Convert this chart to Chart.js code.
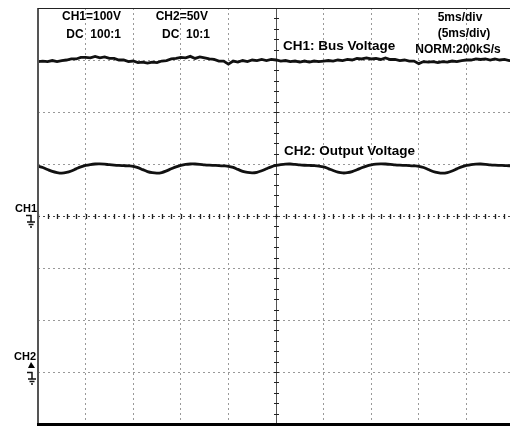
<!DOCTYPE html>
<html><head><meta charset="utf-8">
<script src="https://cdn.jsdelivr.net/npm/chart.js@4"></script>
<style>
html,body{margin:0;padding:0;background:#fff;overflow:hidden;width:510px;height:427px;}
#wrap{position:absolute;left:0;top:0;width:520px;height:427px;}
</style></head><body>
<div id="wrap"><canvas id="c" width="520" height="427"></canvas></div>
<script>
// Sample times (ms), 5 ms/div, 10 divisions
const timeMs = [0,0.5,1,1.5,2,2.5,3,3.5,4,4.5,5,5.5,6,6.5,7,7.5,8,8.5,9,9.5,
10,10.5,11,11.5,12,12.5,13,13.5,14,14.5,15,15.5,16,16.5,17,17.5,18,18.5,19,19.5,
20,20.5,21,21.5,22,22.5,23,23.5,24,24.5,25,25.5,26,26.5,27,27.5,28,28.5,29,29.5,
30,30.5,31,31.5,32,32.5,33,33.5,34,34.5,35,35.5,36,36.5,37,37.5,38,38.5,39,39.5,
40,40.5,41,41.5,42,42.5,43,43.5,44,44.5,45,45.5,46,46.5,47,47.5,48,48.5,49,49.5,50];

// CH1: Bus voltage (V), 100 V/div, ground at centre line
const busVoltage = [297,298,297,299,297,299,300,302,302,305,305,304,307,304,306,303,303,300,300,297,
298,295,296,294,296,295,298,299,302,303,305,304,307,303,306,304,302,301,298,298,
292,298,296,299,297,300,299,301,299,301,300,298,299,297,298,296,298,296,298,297,
298,299,298,300,299,301,300,303,302,304,302,303,301,304,301,301,299,300,298,298,
293,297,296,297,295,297,296,298,297,299,300,300,302,301,302,300,302,300,301,299,300];

// CH2: Output voltage (V), 50 V/div, ground 3 div below centre
const outputVoltage = [198.0,196.6,194.7,192.9,191.8,191.3,191.9,193.3,195.3,197.2,
198.6,199.5,200.0,200.1,199.8,199.3,198.9,198.6,198.4,198.2,
197.8,196.5,194.6,192.7,191.6,191.2,191.8,193.4,195.4,197.3,
198.7,199.6,200.0,200.0,199.7,199.2,198.9,198.7,198.5,198.2,
197.8,196.7,194.8,192.9,191.9,191.5,192.0,193.5,195.4,197.3,
198.6,199.4,199.9,200.0,199.6,199.1,198.8,198.6,198.4,198.0,
197.2,195.6,193.7,192.2,191.4,191.6,192.6,194.4,196.4,198.0,
199.1,199.8,200.1,200.0,199.7,199.2,198.9,198.7,198.5,198.2,
197.8,196.6,194.7,192.8,191.7,191.2,191.8,193.3,195.3,197.2,
198.6,199.5,199.9,200.0,199.7,199.2,198.9,198.7,198.5,198.3,198.0];

const ch1VoltsPerDiv = 100, ch1Ground = 0;
const ch2VoltsPerDiv = 50, ch2Ground = -3;

const ch1Pts = timeMs.map((t,i)=>({x:t, y: busVoltage[i]/ch1VoltsPerDiv + ch1Ground}));
const ch2Pts = timeMs.map((t,i)=>({x:t, y: outputVoltage[i]/ch2VoltsPerDiv + ch2Ground}));

function ground(ctx, x, y){
  ctx.save();
  ctx.strokeStyle='#111'; ctx.lineWidth=1.5;
  ctx.beginPath();
  ctx.moveTo(x-4,y+0.5); ctx.lineTo(x+1.5,y+0.5);
  ctx.moveTo(x+1,y); ctx.lineTo(x+1,y+7);
  ctx.moveTo(x-3,y+7); ctx.lineTo(x+5,y+7);
  ctx.moveTo(x-1.5,y+9.5); ctx.lineTo(x+3.5,y+9.5);
  ctx.moveTo(x,y+12); ctx.lineTo(x+2,y+12);
  ctx.stroke();
  ctx.restore();
}

const scopePlugin = {
  id:'scope',
  beforeDatasetsDraw(chart){
    const ctx=chart.ctx, xs=chart.scales.x, ys=chart.scales.y, a=chart.chartArea;
    ctx.save();
    // vertical centre axis with ticks
    const cx = Math.round(xs.getPixelForValue(25))+0.5;
    ctx.strokeStyle='#555'; ctx.lineWidth=1;
    ctx.beginPath(); ctx.moveTo(cx,a.top); ctx.lineTo(cx,a.bottom); ctx.stroke();
    ctx.strokeStyle='#222';
    ctx.beginPath();
    for(let v=-4; v<=4.001; v+=0.2){
      const py=Math.round(ys.getPixelForValue(v))+0.5;
      ctx.moveTo(cx-2.5,py); ctx.lineTo(cx+2.5,py);
    }
    ctx.stroke();
    // horizontal centre axis: darker dotted line with ticks
    const cy = Math.round(ys.getPixelForValue(0))+0.5;
    ctx.strokeStyle='#444'; ctx.setLineDash([2,3]);
    ctx.beginPath(); ctx.moveTo(a.left,cy); ctx.lineTo(a.right,cy); ctx.stroke();
    ctx.setLineDash([]);
    ctx.strokeStyle='#222'; ctx.lineWidth=1.3;
    ctx.beginPath();
    for(let t=0; t<=50.001; t+=1){
      const px=Math.round(xs.getPixelForValue(t))+0.5;
      ctx.moveTo(px,cy-2.5); ctx.lineTo(px,cy+2.5);
    }
    ctx.stroke();
    ctx.restore();
  },
  afterDraw(chart){
    const ctx=chart.ctx, xs=chart.scales.x, ys=chart.scales.y, a=chart.chartArea;
    ctx.save();
    // frame
    ctx.strokeStyle='#555'; ctx.lineWidth=2;
    ctx.beginPath(); ctx.moveTo(a.left,a.top); ctx.lineTo(a.left,a.bottom); ctx.stroke();
    ctx.strokeStyle='#222'; ctx.lineWidth=1;
    ctx.beginPath(); ctx.moveTo(a.left,a.top+0.5); ctx.lineTo(a.right,a.top+0.5); ctx.stroke();
    ctx.strokeStyle='#000'; ctx.lineWidth=3;
    ctx.beginPath(); ctx.moveTo(a.left-1,a.bottom+0.5); ctx.lineTo(a.right,a.bottom+0.5); ctx.stroke();
    // texts
    ctx.fillStyle='#000';
    ctx.textBaseline='alphabetic';
    ctx.font='bold 12px "Liberation Sans", Arial, sans-serif';
    ctx.textAlign='right';
    ctx.fillText('CH1=100V',121,20);
    ctx.fillText('DC  100:1',121,38);
    ctx.fillText('CH2=50V',208,20);
    ctx.fillText('DC  10:1',210,38);
    ctx.textAlign='center';
    ctx.fillText('5ms/div',460,21);
    ctx.fillText('(5ms/div)',464,37);
    ctx.fillText('NORM:200kS/s',458,53);
    ctx.font='bold 13.5px "Liberation Sans", Arial, sans-serif';
    ctx.textAlign='left';
    ctx.fillText('CH1: Bus Voltage',283,50);
    ctx.fillText('CH2: Output Voltage',284,155);
    ctx.font='bold 11px "Liberation Sans", Arial, sans-serif';
    ctx.textAlign='right';
    const g1=ys.getPixelForValue(ch1Ground), g2=ys.getPixelForValue(ch2Ground);
    ctx.fillText('CH1',37,g1-4);
    ctx.fillText('CH2',36,g2-12);
    ground(ctx,30,g1-1);
    ground(ctx,31,g2);
    ctx.beginPath();
    ctx.moveTo(28,g2-4); ctx.lineTo(35,g2-4); ctx.lineTo(31,g2-10); ctx.closePath();
    ctx.fill();
    ctx.restore();
  }
};

new Chart(document.getElementById('c'), {
  type:'line',
  data:{datasets:[
    {label:'CH1: Bus Voltage', data:ch1Pts, borderColor:'#111', borderWidth:2.8, pointRadius:0, tension:0, fill:false},
    {label:'CH2: Output Voltage', data:ch2Pts, borderColor:'#111', borderWidth:2.8, pointRadius:0, tension:0.35, fill:false}
  ]},
  options:{
    responsive:false, animation:false, devicePixelRatio:1,
    layout:{padding:{left:38, top:8, right:6, bottom:3}},
    plugins:{legend:{display:false}, tooltip:{enabled:false}, title:{display:false}},
    scales:{
      x:{type:'linear', min:0, max:50, ticks:{display:false, stepSize:5}, grid:{color:'#999', lineWidth:1, drawTicks:false}, border:{display:false, dash:[2,3]}},
      y:{type:'linear', min:-4, max:4, ticks:{display:false, stepSize:1}, grid:{color:'#999', lineWidth:1, drawTicks:false}, border:{display:false, dash:[2,3]}}
    }
  },
  plugins:[scopePlugin]
});
</script>
</body></html>
